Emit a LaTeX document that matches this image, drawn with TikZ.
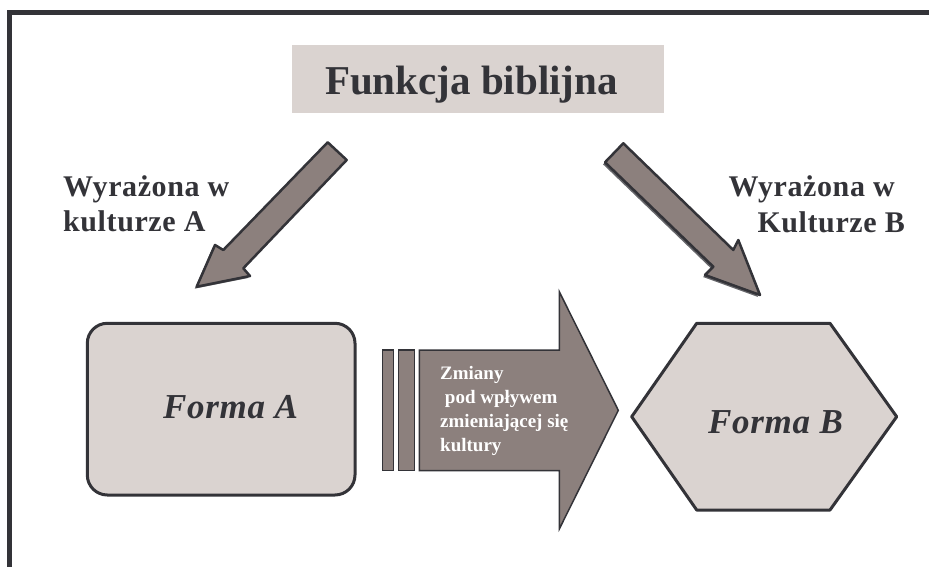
\documentclass[tikz,border=0pt]{standalone}
\usepackage{fontspec}
\setmainfont{Liberation Serif}
\definecolor{inkdark}{HTML}{333338}
\definecolor{paleface}{HTML}{DAD3D0}
\definecolor{taupe}{HTML}{8C807D}
\begin{document}
\begin{tikzpicture}[x=1pt,y=-1pt,
  lbl/.style={font=\fontsize{30}{36}\selectfont\bfseries\addfontfeatures{LetterSpace=2}, text=inkdark, inner sep=0pt},
  formtxt/.style={font=\fontsize{35}{40}\selectfont\bfseries\itshape\addfontfeatures{LetterSpace=2}, text=inkdark, inner sep=0pt},
  arrowshape/.style={fill=taupe, draw=inkdark, line width=2.5pt, line join=round},
  panel/.style={fill=paleface, draw=inkdark, line width=3pt, line join=round}]
\useasboundingbox (0,0) rectangle (929,567);
% frame
\draw[inkdark, line width=5pt] (9.5,567) -- (9.5,12.5) -- (929,12.5);
% title
\node[fill=paleface, minimum width=372pt, minimum height=68pt, inner sep=0pt] (title) at (478,79) {};
\node[font=\fontsize{41}{46}\selectfont\bfseries, text=inkdark, inner sep=0pt, anchor=base] (titletxt) at (471.5,95) {Funkcja biblijna};
% left side labels
\node[lbl, anchor=base west] (la1) at (63,196) {Wyrażona w};
\node[lbl, anchor=base west] (la2) at (63,231) {kulturze A};
% right side labels
\node[lbl, anchor=base east] (lb1) at (895,196) {Wyrażona w};
\node[lbl, anchor=base east] (lb2) at (905,232) {Kulturze B};
% left diagonal arrow
\fill[inkdark!75] (325.7,144.3) -- (344.7,162) -- (241.3,270.3) -- (248,278) -- (194.7,288.7) -- (213,247) -- (221.3,252) -- cycle;
\draw[arrowshape] (327.7,142.3) -- (346.7,160) -- (243.3,268.3) -- (250,276) -- (196.7,286.7) -- (215,245) -- (223.3,250) -- cycle;
% right diagonal arrow
\fill[inkdark!75] (603,164.3) -- (621.3,145.3) -- (731.3,252) -- (736.3,242) -- (758,297) -- (703,277) -- (711.3,268.7) -- cycle;
\draw[arrowshape] (605,162.3) -- (623.3,143.3) -- (733.3,250) -- (738.3,240) -- (760,295) -- (705,275) -- (713.3,266.7) -- cycle;
% Forma A
\draw[panel, rounded corners=20pt] (87.3,323.3) rectangle (355,495);
\node[formtxt, anchor=base] (formaA) at (230.5,418) {Forma A};
% Forma B hexagon
\draw[panel] (631.7,416.7) -- (696.7,323.3) -- (830,323.3) -- (896.7,416.7) -- (830,510) -- (696.7,510) -- cycle;
\node[formtxt, anchor=base] (formaB) at (775.5,433) {Forma B};
% big arrow with bars
\draw[fill=taupe, draw=inkdark, line width=1.5pt] (382.3,350) rectangle (393.3,470.7);
\draw[fill=taupe, draw=inkdark, line width=1.5pt] (398.3,350) rectangle (414.3,470.7);
\draw[fill=taupe, draw=inkdark, line width=1.5pt, line join=miter] (419.3,350) -- (559.3,350) -- (559.3,291.7) -- (618.3,410.3) -- (559.3,529) -- (559.3,470.7) -- (419.3,470.7) -- cycle;
\node[font=\fontsize{19}{24}\selectfont\bfseries, text=white, align=left, anchor=north west, inner sep=0pt] (change) at (440,366)
  {Zmiany\\\ pod wpływem\\zmieniającej się\\kultury};
\end{tikzpicture}
\end{document}
